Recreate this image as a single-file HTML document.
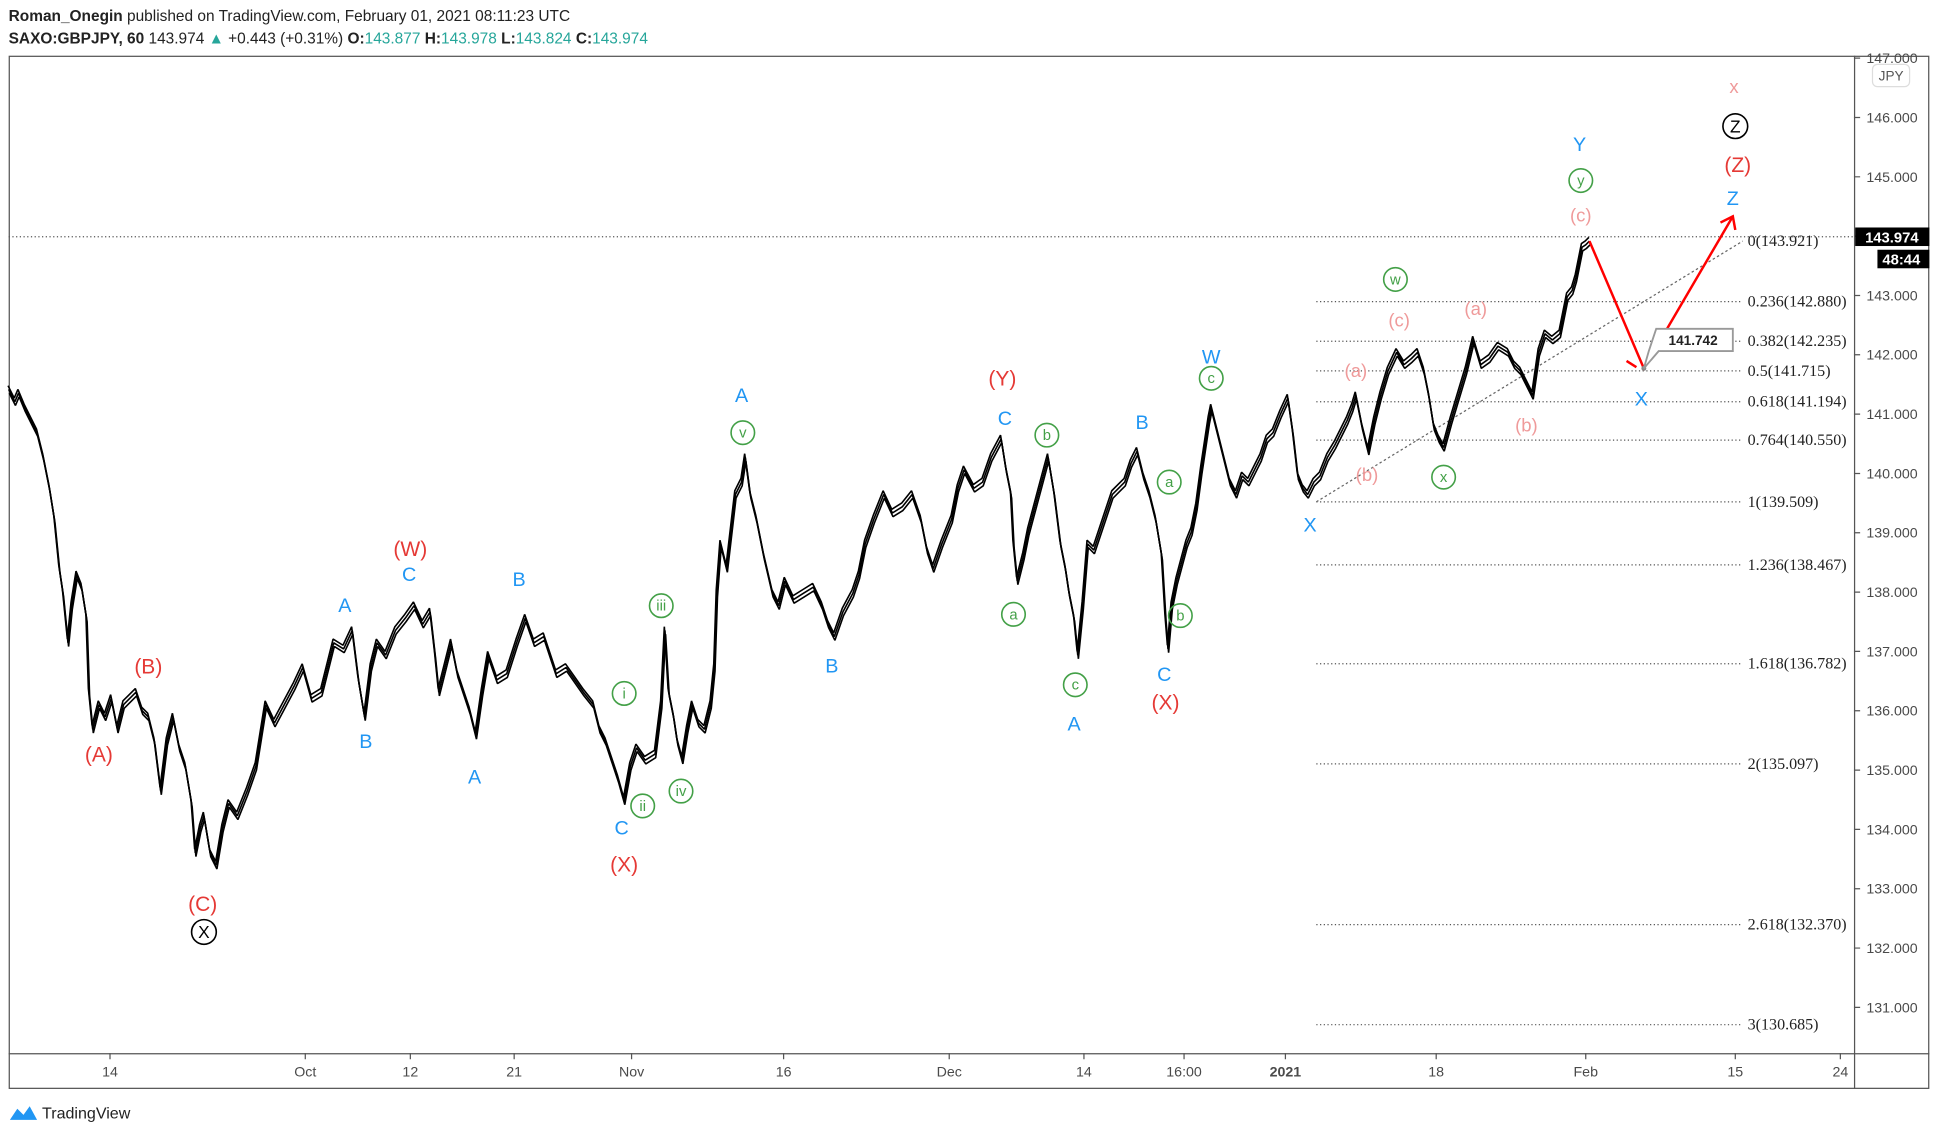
<!DOCTYPE html>
<html><head><meta charset="utf-8"><style>
html,body{margin:0;padding:0;background:#fff;}
svg{display:block;}
text{font-family:"Liberation Sans",sans-serif;}
.fib text{font-family:"Liberation Serif",serif;font-size:13px;fill:#222;}
.ax text{font-size:11.5px;fill:#4a4a4a;}
.r{fill:#e53935;font-size:17px;}
.b{fill:#2196f3;font-size:16px;}
.p{fill:#ef9a9a;font-size:15px;}
.gc circle{fill:none;stroke:#43a047;stroke-width:1.3;}
.gc text{fill:#43a047;font-size:12px;}
</style></head><body>
<svg width="1938" height="1136" viewBox="0 0 1568 919" xmlns="http://www.w3.org/2000/svg">
<rect width="1568" height="919" fill="#fff"/>
<text x="7" y="17" font-size="12.5" fill="#222"><tspan font-weight="bold">Roman_Onegin</tspan> published on TradingView.com, February 01, 2021 08:11:23 UTC</text>
<text x="7" y="35" font-size="12.5" fill="#222"><tspan font-weight="bold">SAXO:GBPJPY, 60</tspan> 143.974 <tspan fill="#26a69a">▲</tspan> +0.443 (+0.31%) <tspan font-weight="bold">O:</tspan><tspan fill="#26a69a">143.877</tspan> <tspan font-weight="bold">H:</tspan><tspan fill="#26a69a">143.978</tspan> <tspan font-weight="bold">L:</tspan><tspan fill="#26a69a">143.824</tspan> <tspan font-weight="bold">C:</tspan><tspan fill="#26a69a">143.974</tspan></text>
<rect x="7.5" y="45.5" width="1553" height="835" fill="none" stroke="#555"/>
<line x1="1500.5" y1="45" x2="1500.5" y2="881" stroke="#555"/>
<line x1="7" y1="852.5" x2="1561" y2="852.5" stroke="#555"/>
<g class="ax" stroke="#555">
<path d="M1500,47h5M1500,95h5M1500,143h5M1500,191h5M1500,239h5M1500,287h5M1500,335h5M1500,383h5M1500,431h5M1500,479h5M1500,527h5M1500,575h5M1500,623h5M1500,671h5M1500,719h5M1500,767h5M1500,815h5"/>
<path d="M89,852v5M247,852v5M332,852v5M416,852v5M511,852v5M634,852v5M768,852v5M877,852v5M958,852v5M1040,852v5M1162,852v5M1283,852v5M1404,852v5M1489,852v5"/>
</g>
<g class="ax">
<text x="1510" y="51">147.000</text><text x="1510" y="99">146.000</text><text x="1510" y="147">145.000</text><text x="1510" y="243">143.000</text><text x="1510" y="291">142.000</text><text x="1510" y="339">141.000</text><text x="1510" y="387">140.000</text><text x="1510" y="435">139.000</text><text x="1510" y="483">138.000</text><text x="1510" y="531">137.000</text><text x="1510" y="579">136.000</text><text x="1510" y="627">135.000</text><text x="1510" y="675">134.000</text><text x="1510" y="723">133.000</text><text x="1510" y="771">132.000</text><text x="1510" y="819">131.000</text>
</g>
<g class="ax" text-anchor="middle">
<text x="89" y="871">14</text><text x="247" y="871">Oct</text><text x="332" y="871">12</text><text x="416" y="871">21</text><text x="511" y="871">Nov</text><text x="634" y="871">16</text><text x="768" y="871">Dec</text><text x="877" y="871">14</text><text x="958" y="871">16:00</text><text x="1040" y="871" font-weight="bold">2021</text><text x="1162" y="871">18</text><text x="1283" y="871">Feb</text><text x="1404" y="871">15</text><text x="1489" y="871">24</text>
</g>
<path d="M1065,244H1410M1065,276H1410M1065,300H1410M1065,325H1410M1065,356H1410M1065,406H1410M1065,457H1410M1065,537H1410M1065,618H1410M1065,748H1410M1065,829H1410" stroke="#555" stroke-dasharray="1,2"/>
<g class="fib">
<text x="1414" y="199">0(143.921)</text><text x="1414" y="248">0.236(142.880)</text><text x="1414" y="280">0.382(142.235)</text><text x="1414" y="304">0.5(141.715)</text><text x="1414" y="329">0.618(141.194)</text><text x="1414" y="360">0.764(140.550)</text><text x="1414" y="410">1(139.509)</text><text x="1414" y="461">1.236(138.467)</text><text x="1414" y="541">1.618(136.782)</text><text x="1414" y="622">2(135.097)</text><text x="1414" y="752">2.618(132.370)</text><text x="1414" y="833">3(130.685)</text>
</g>
<line x1="7" y1="191.5" x2="1500" y2="191.5" stroke="#555" stroke-dasharray="1,2"/>
<line x1="1065" y1="406" x2="1410" y2="195" stroke="#666" stroke-dasharray="2,2"/>
<g fill="none" stroke="#000" stroke-linejoin="bevel">
<polyline id="pl" stroke-width="1.3" points="7,315 12,325 15,318 20,330 25,340 30,350 35,370 40,395 44,420 48,460 51,480 55,520 58,490 62,465 66,475 70,500 72,560 75,590 80,570 85,580 90,565 95,590 100,570 110,560 115,575 120,580 125,600 130,640 135,600 140,580 145,605 150,620 155,650 158,690 162,670 165,660 170,690 175,700 180,670 185,650 192,660 200,640 207,620 215,570 222,585 230,570 238,555 245,540 252,565 260,560 265,540 270,520 278,525 285,510 290,550 295,580 300,540 305,520 312,530 320,510 328,500 335,490 342,505 348,495 352,530 355,560 360,540 365,520 370,545 375,560 380,575 385,595 390,560 395,530 402,550 410,545 418,520 425,500 432,520 440,515 445,530 450,545 458,540 465,550 472,560 480,570 485,590 490,600 495,615 500,630 505,648 510,620 515,605 522,615 530,610 535,570 538,510 541,560 545,580 548,600 552,615 556,590 560,570 565,585 570,590 575,570 578,540 580,480 583,440 588,460 595,400 600,390 603,370 607,400 612,420 618,450 625,480 630,490 635,470 642,485 650,480 658,475 665,490 670,505 675,515 682,495 690,480 695,465 700,440 707,420 715,400 722,415 730,410 738,400 745,420 750,445 755,460 762,440 770,420 775,395 780,380 788,395 795,390 802,370 810,355 814,380 818,400 820,440 823,470 828,450 832,430 836,415 840,400 844,385 848,370 853,400 858,440 862,460 865,480 869,500 872,530 876,490 880,440 885,445 890,430 895,415 900,400 905,395 910,390 915,375 920,365 925,385 930,400 935,420 940,450 943,500 945,525 948,490 952,470 956,455 960,440 964,430 968,410 972,380 975,360 978,340 980,330 985,350 990,370 995,390 1000,400 1005,385 1010,390 1015,380 1020,370 1025,355 1030,350 1036,335 1042,322 1046,350 1050,385 1054,395 1058,400 1063,390 1068,385 1074,370 1080,360 1085,350 1090,340 1094,330 1097,320 1102,345 1107,365 1112,340 1117,320 1123,300 1130,285 1136,295 1142,290 1147,285 1152,300 1156,320 1160,345 1164,355 1168,362 1174,340 1180,320 1186,300 1192,275 1198,295 1205,290 1212,280 1220,285 1225,295 1230,300 1235,310 1240,320 1245,285 1250,270 1256,275 1262,270 1265,255 1268,240 1272,235 1275,225 1278,210 1280,200 1283,198 1286,195"/>
<use href="#pl" transform="translate(0.5,3)" stroke-width="0.9"/>
<use href="#pl" transform="translate(-0.5,-3)" stroke-width="0.9"/>
</g>
<polyline points="1286,195 1330,298 1402,175" fill="none" stroke="#f00" stroke-width="2"/>
<path d="M1392,180 L1402,175 L1404,186" fill="none" stroke="#f00" stroke-width="2"/>
<line x1="1316" y1="292" x2="1324" y2="297" stroke="#f00" stroke-width="2"/>
<circle cx="1330" cy="298" r="2" fill="#888"/>
<path d="M1340,266 h62 v18 h-60 l-12,14 l4,-14 z" fill="#fff" stroke="#999" stroke-width="1.5"/>
<text x="1350" y="279" font-size="11" font-weight="bold" fill="#222">141.742</text>
<rect x="1501" y="184" width="60" height="15" fill="#000"/>
<text x="1509" y="196" font-size="12" font-weight="bold" fill="#fff">143.974</text>
<rect x="1519" y="202" width="42" height="15" fill="#000"/>
<text x="1523" y="214" font-size="12" font-weight="bold" fill="#fff">48:44</text>
<rect x="1515" y="52" width="30" height="18" rx="4" fill="#fff" stroke="#ddd"/>
<text x="1520" y="65" font-size="11" fill="#555">JPY</text>
<g text-anchor="middle">
<text class="r" x="80" y="616">(A)</text><text class="r" x="120" y="545">(B)</text><text class="r" x="164" y="737">(C)</text><text class="r" x="332" y="450">(W)</text><text class="r" x="505" y="705">(X)</text><text class="r" x="811" y="312">(Y)</text><text class="r" x="943" y="574">(X)</text><text class="r" x="1406" y="139">(Z)</text>
<text class="b" x="279" y="495">A</text><text class="b" x="331" y="470">C</text><text class="b" x="296" y="605">B</text><text class="b" x="384" y="634">A</text><text class="b" x="420" y="474">B</text><text class="b" x="503" y="675">C</text><text class="b" x="600" y="325">A</text><text class="b" x="673" y="544">B</text><text class="b" x="813" y="344">C</text><text class="b" x="869" y="591">A</text><text class="b" x="924" y="347">B</text><text class="b" x="942" y="551">C</text><text class="b" x="980" y="294">W</text><text class="b" x="1060" y="430">X</text><text class="b" x="1278" y="122">Y</text><text class="b" x="1402" y="166">Z</text><text class="b" x="1328" y="328">X</text>
<text class="p" x="1097" y="305">(a)</text><text class="p" x="1106" y="389">(b)</text><text class="p" x="1132" y="264">(c)</text><text class="p" x="1194" y="255">(a)</text><text class="p" x="1235" y="349">(b)</text><text class="p" x="1279" y="179">(c)</text><text class="p" x="1403" y="75">x</text>
</g>
<g class="gc" text-anchor="middle">
<circle cx="535" cy="490" r="9.5"/><text x="535" y="494" font-size="9">iii</text>
<circle cx="505" cy="561" r="9.5"/><text x="505" y="565">i</text>
<circle cx="520" cy="652" r="9.5"/><text x="520" y="656">ii</text>
<circle cx="551" cy="640" r="9.5"/><text x="551" y="644" font-size="10">iv</text>
<circle cx="601" cy="350" r="9.5"/><text x="601" y="354">v</text>
<circle cx="820" cy="497" r="9.5"/><text x="820" y="501">a</text>
<circle cx="847" cy="352" r="9.5"/><text x="847" y="356">b</text>
<circle cx="870" cy="554" r="9.5"/><text x="870" y="558">c</text>
<circle cx="946" cy="390" r="9.5"/><text x="946" y="394">a</text>
<circle cx="955" cy="498" r="9.5"/><text x="955" y="502">b</text>
<circle cx="980" cy="306" r="9.5"/><text x="980" y="310">c</text>
<circle cx="1129" cy="226" r="9.5"/><text x="1129" y="230">w</text>
<circle cx="1168" cy="386" r="9.5"/><text x="1168" y="390">x</text>
<circle cx="1279" cy="146" r="9.5"/><text x="1279" y="150">y</text>
</g>
<g text-anchor="middle">
<circle cx="165" cy="754" r="10" fill="none" stroke="#000" stroke-width="1.3"/><text x="165" y="759" font-size="14" fill="#000">X</text>
<circle cx="1404" cy="102" r="10" fill="none" stroke="#000" stroke-width="1.3"/><text x="1404" y="107" font-size="14" fill="#000">Z</text>
</g>
<path d="M8,906 l6,-9 l5,5 l5,-7 l6,11 z" fill="#2196f3"/>
<text x="34" y="905" font-size="13" fill="#222">TradingView</text>
</svg>
</body></html>
